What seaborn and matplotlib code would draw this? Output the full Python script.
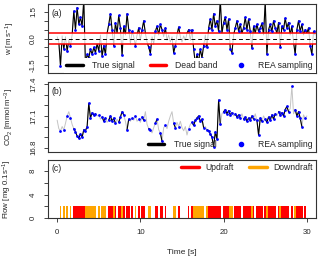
import numpy as np
import matplotlib
matplotlib.use("Agg")
import matplotlib.pyplot as plt
import seaborn as sns
from matplotlib.lines import Line2D
from matplotlib.patches import Rectangle

# vertical wind w [m s-1], sampled every 0.2 s from t = 0
w = [0.1, -0.2, -1.55, 0.15, -0.6, 0.1, -0.7, -0.1, -0.4, 0.2,
     1.55, 0.5, 1.75, 0.8, 1.2, 0.7, 2.2, -1.5, -0.9, -1.1,
     -0.6, -0.9, -0.5, -0.8, -0.3, -0.7, 0.2, -1.0, -0.4, -0.9,
     0.3, 0.8, 1.4, 0.5, -0.4, 0.9, 0.3, 1.3, 0.6, -0.95,
     0.7, 0.2, 1.4, 0.5, -0.3, 0.4, 0.1, -0.4, 0.2, 0.6,
     -0.1, 0.5, 1.0, 0.3, -0.2, -0.5, -0.85, 0.1, -0.3, 0.4,
     0.7, 0.2, 0.8, 0.5, 0.1, 0.6, -0.1, 0.2, -0.2, 0.1,
     -0.8, -0.4, 0.2, 0.65, 0.1, -0.2, 0.15, -0.1, 0.3, 0.5,
     -0.1, 0.5, -0.6, -1.4, -0.9, -1.3, -0.6, -1.1, -0.4, 0.2,
     -0.5, 0.6, 1.1, 0.5, 1.4, 0.7, 1.0, 0.4, 2.2, 0.3,
     0.9, 1.2, 0.5, 1.1, -0.6, -0.8, 0.2, 0.6, 1.0, 0.4,
     0.8, 0.3, 0.6, 1.2, 0.5, 1.1, 0.4, -0.55, 0.7, 0.3,
     0.8, 0.4, 0.6, 0.85, 0.2, 2.1, -0.9, 0.5, 0.8, 0.4,
     1.0, 0.6, 0.3, 0.9, -0.5, 0.7, 0.5, 1.15, 0.6, 0.9,
     0.2, 0.7, -0.2, -0.9, 0.5, 1.0, 0.4, 0.8, 0.2, 0.5,
     0.3, 0.6, -0.4, -0.9, 0.4, 0.2]

# CO2 concentration [mmol m-3], sampled every 0.2 s from t = 0 to 30
co2 = [17.06, 16.98, 16.96, 17.00, 16.97, 17.03, 17.10, 17.14, 17.08, 17.02,
       16.98, 16.95, 16.91, 16.89, 16.93, 16.90, 16.97, 16.96, 17.00, 17.22,
       17.08, 17.13, 17.11, 17.12, 17.10, 17.11, 17.07, 17.09, 17.05, 17.08,
       17.04, 17.06, 17.10, 17.05, 17.08, 17.03, 17.07, 17.04, 17.09, 17.14,
       17.11, 17.05, 16.97, 17.07, 17.05, 17.08, 17.06, 17.10, 17.05, 17.07,
       17.04, 17.09, 17.06, 17.14, 17.02, 16.98, 16.97, 16.94, 16.99, 17.03,
       17.07, 16.97, 16.94, 16.86, 16.99, 17.01, 16.98, 17.05, 17.10, 17.14,
       17.03, 16.99, 17.04, 17.00, 17.05, 16.99, 16.96, 17.00, 16.92, 16.98,
       17.02, 17.04, 17.01, 17.06, 17.08, 17.10, 17.05, 17.07, 16.99, 17.00,
       16.97, 16.96, 16.93, 16.90, 16.81, 16.95, 16.88, 17.25, 17.02, 17.12,
       17.14, 17.16, 17.12, 17.15, 17.11, 17.13, 17.10, 17.12, 17.09, 17.11,
       17.08, 17.12, 17.07, 17.09, 17.05, 17.08, 17.06, 17.10, 17.07, 17.12,
       17.06, 16.92, 17.08, 17.05, 17.10, 17.07, 17.04, 17.09, 17.06, 17.11,
       17.07, 17.12, 17.10, 17.14, 17.11, 17.13, 17.10, 17.16, 17.19, 17.14,
       17.17, 17.38, 17.12, 17.16, 17.10, 17.14, 17.08, 17.00, 17.11, 17.08,
       17.10]

dead_band = 0.3
flow_level = 2.0
dt = 0.2

w = np.array(w)
co2 = np.array(co2)
t_w = np.arange(len(w)) * dt
t_c = np.arange(len(co2)) * dt
w_c = w[:len(co2)]
sampled_w = np.abs(w) > dead_band
sampled_c = np.abs(w_c) > dead_band

sns.set_style("ticks")
plt.rcParams["font.family"] = ["Liberation Sans", "DejaVu Sans"]
plt.rcParams["mathtext.fontset"] = "custom"
plt.rcParams["mathtext.rm"] = "Liberation Sans"
plt.rcParams["mathtext.it"] = "Liberation Sans:italic"
plt.rcParams["axes.edgecolor"] = "black"
plt.rcParams["axes.linewidth"] = 0.8

fs_tick = 5.7
fs_leg = 6.2
grey = "#c4c4c4"
xlim = (-1.1, 31.1)

fig = plt.figure(figsize=(3.2, 2.63), dpi=100)
ax_a = fig.add_axes([0.15, 0.7224, 0.8375, 0.2624])
ax_b = fig.add_axes([0.15, 0.4221, 0.8375, 0.2661])
ax_c = fig.add_axes([0.15, 0.1711, 0.8375, 0.2205])

# (a) vertical wind
ylim_a = (-1.95, 1.95)
sns.lineplot(x=t_w, y=w, ax=ax_a, color=grey, lw=0.6, estimator=None, sort=False)
for lo, hi in [(dead_band, ylim_a[1]), (ylim_a[0], -dead_band)]:
    ln, = ax_a.plot(t_w, w, color="black", lw=0.8)
    ln.set_clip_path(Rectangle((xlim[0], lo), xlim[1] - xlim[0], hi - lo,
                               transform=ax_a.transData))
ax_a.axhline(0, color="black", lw=0.7, ls=(0, (4, 3)))
ax_a.axhline(dead_band, color="red", lw=1.1)
ax_a.axhline(-dead_band, color="red", lw=1.1)
sns.scatterplot(x=t_w[sampled_w], y=w[sampled_w], ax=ax_a, color="blue",
                s=4, linewidth=0, zorder=5)
ax_a.set_ylim(*ylim_a)
ax_a.set_yticks(np.arange(-1.5, 1.51, 0.5))
ax_a.set_yticklabels(["-1.5", "", "", "0.0", "", "", "1.5"])
ax_a.set_ylabel("w [m s$^{-1}$]", fontsize=fs_tick)
h_a = [Line2D([], [], color="black", lw=2.5),
       Line2D([], [], color="red", lw=2.5),
       Line2D([], [], color="blue", lw=0, marker="o", ms=3)]
leg = ax_a.legend(h_a, ["True signal", "Dead band", "REA sampling"], loc="lower right",
                  ncol=3, fontsize=fs_leg, handlelength=1.9, handletextpad=1.1,
                  columnspacing=1.7, borderpad=0.3, borderaxespad=0.05,
                  frameon=True, fancybox=False, framealpha=1, facecolor="white",
                  edgecolor="none")
leg.set_zorder(10)

# (b) CO2
ax_b.plot(t_c, co2, color=grey, lw=0.7)
ax_b.plot(t_c, np.where(sampled_c, co2, np.nan), color="black", lw=0.8)
sns.scatterplot(x=t_c[sampled_c], y=co2[sampled_c], ax=ax_b, color="blue",
                s=4, linewidth=0, zorder=5)
ax_b.set_ylim(16.76, 17.42)
ax_b.set_yticks(np.round(np.arange(16.8, 17.41, 0.1), 1))
ax_b.set_yticklabels(["16.8", "", "", "17.1", "", "", "17.4"])
ax_b.set_ylabel("CO$_2$ [mmol m$^{-3}$]", fontsize=fs_tick)
h_b = [Line2D([], [], color="black", lw=2.5),
       Line2D([], [], color="blue", lw=0, marker="o", ms=3)]
ax_b.legend(h_b, ["True signal", "REA sampling"], loc="lower right", ncol=2,
            fontsize=fs_leg, handlelength=1.9, handletextpad=1.1, columnspacing=1.85,
            borderpad=0.3, borderaxespad=0.05, frameon=False)

# (c) flow
up = w_c > dead_band
down = w_c < -dead_band
ax_c.bar(t_c[up], np.full(up.sum(), flow_level), width=dt, color="red", lw=0)
ax_c.bar(t_c[down], np.full(down.sum(), flow_level), width=dt, color="orange", lw=0)
ax_c.set_ylim(0, 9.9)
ax_c.set_yticks([0, 2, 4, 6, 8])
ax_c.set_yticklabels(["0", "", "4", "", "8"])
ax_c.set_ylabel("Flow [mg 0.1s$^{-1}$]", fontsize=fs_tick)
ax_c.set_xticks([0, 10, 20, 30])
ax_c.set_xlabel("Time [s]", fontsize=fs_tick + 0.3, labelpad=9)
h_c = [Line2D([], [], color="red", lw=2.5), Line2D([], [], color="orange", lw=2.5)]
ax_c.legend(h_c, ["Updraft", "Downdraft"], loc="upper right", ncol=2, fontsize=fs_leg,
            handlelength=2.2, handletextpad=0.7, columnspacing=1.7,
            borderpad=0.3, borderaxespad=0.05, frameon=False)

for ax, lx in [(ax_a, -0.115), (ax_b, -0.12), (ax_c, -0.128)]:
    ax.set_xlim(*xlim)
    ax.tick_params(axis="y", direction="out", length=3, width=0.6,
                   labelsize=fs_tick, pad=5, labelrotation=90)
    for lab in ax.get_yticklabels():
        lab.set_va("center")
    ax.yaxis.set_label_coords(lx, 0.5)
    for s in ax.spines.values():
        s.set_color("#333333")
for ax in (ax_a, ax_b):
    ax.tick_params(axis="x", bottom=False, labelbottom=False)
ax_c.tick_params(axis="x", direction="out", length=3, width=0.6,
                 labelsize=fs_tick, pad=5)

for ax, lab in [(ax_a, "(a)"), (ax_b, "(b)"), (ax_c, "(c)")]:
    ax.text(0.012, 0.93, lab, transform=ax.transAxes, fontsize=fs_leg,
            ha="left", va="top")

fig.savefig("out.png", dpi=100)
